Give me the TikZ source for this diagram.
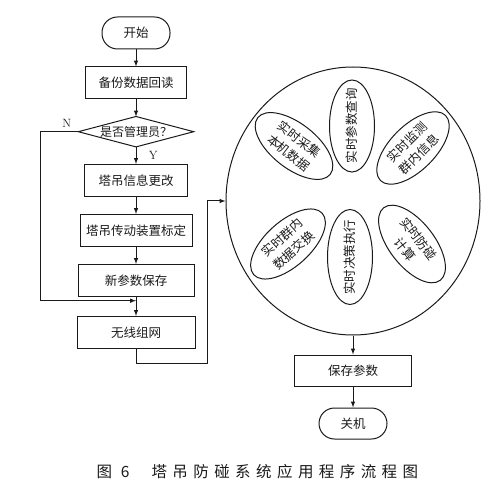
\documentclass[tikz,border=0pt]{standalone}
\usepackage{fontspec}
\usepackage{tikz}
\usetikzlibrary{positioning,shapes.geometric}
\newfontfamily\cjk{Noto Sans CJK SC}
\newfontfamily\cjkwide[LetterSpace=35]{Noto Sans CJK SC}
\definecolor{tinta}{HTML}{1A1A1A}

\begin{document}
\begin{tikzpicture}[x=1pt, y=1pt,
      flowstep/.style={draw=tinta, line width=1pt, minimum height=32pt, inner sep=2pt, text=tinta, font=\cjk\fontsize{12.5}{15}\selectfont},
      terminal/.style={flowstep, rounded corners=15.5pt, minimum width=68pt},
      decision/.style={minimum width=115pt, minimum height=30pt, inner sep=0pt, text=tinta, font=\cjk\fontsize{12}{14}\selectfont},
      petal/.style={draw=tinta, line width=1pt, ellipse, inner sep=-20pt, minimum width=92pt, minimum height=45pt, align=center, text=tinta, font=\cjk\fontsize{12.5}{17}\selectfont},
      arrow/.style={-latex, line width=1pt, color=tinta},
      yesno/.style={text=tinta, font=\fontsize{12}{14}\selectfont}
    ]
      \useasboundingbox (0,0) rectangle (500,-494);
      % main column
      \node[terminal] (start) at (136,-33) {开始};
      \node[flowstep, minimum width=101pt, below=17pt of start] (readback) {备份数据回读};
      \node[decision, below=17pt of readback] (admin) {是否管理员？};
      \draw[line width=1pt, color=tinta] (admin.west) -- (admin.north) -- (admin.east) -- (admin.south) -- cycle;
      \node[flowstep, minimum width=103pt, below=17pt of admin] (info) {塔吊信息更改};
      \node[flowstep, minimum width=112pt, below=17pt of info] (calib) {塔吊传动装置标定};
      \node[flowstep, minimum width=116pt, below=17pt of calib] (newsave) {新参数保存};
      \node[flowstep, minimum width=118pt, below=19pt of newsave] (network) {无线组网};
      \path (newsave.south) -- (network.north) coordinate[pos=0.2] (merge);
      \draw[arrow] (start) -- (readback);
      \draw[arrow] (readback) -- (admin.north);
      \draw[arrow] (admin.south) -- node[yesno, midway, right=9pt] {Y} (info);
      \draw[arrow] (info) -- (calib);
      \draw[arrow] (calib) -- (newsave);
      \draw[arrow] (newsave) -- (network);
      \draw[arrow] (admin.west) -- node[yesno, pos=0.3, above] {N} ++(-38,0) |- (merge);
      % real-time tasks
      \node[draw=tinta, line width=1pt, ellipse, inner sep=0pt, minimum width=254pt, minimum height=268pt] (tasks) at (353,-201) {};
      \node[petal, rotate=-38] (collect) at (294,-146) {实时采集\\本机数据};
      \node[petal, rotate=90] (query) at (352,-126) {实时参数查询};
      \node[petal, rotate=45] (monitor) at (413,-148) {实时监测\\群内信息};
      \node[petal, rotate=42] (exchange) at (288,-244) {实时群内\\数据交换};
      \node[petal, rotate=90, minimum width=95pt] (decide) at (350,-257) {实时决策执行};
      \node[petal, rotate=-52] (compute) at (412,-244) {实时防碰\\计算};
      \draw[arrow] (network.south) -- ++(0,-15) -| ([xshift=-18pt]tasks.west) -- (tasks.west);
      % shutdown
      \node[flowstep, minimum width=117pt, minimum height=31pt, below=19pt of tasks] (keep) {保存参数};
      \node[terminal, minimum height=31pt, below=21pt of keep] (off) {关机};
      \draw[arrow] (tasks) -- (keep);
      \draw[arrow] (keep) -- (off);
      \node[anchor=west, text=tinta, font=\cjkwide\fontsize{15.5}{18}\selectfont] (caption) at (93,-472) {图 6\hspace{22pt}塔吊防碰系统应用程序流程图};
    \end{tikzpicture}
\end{document}
